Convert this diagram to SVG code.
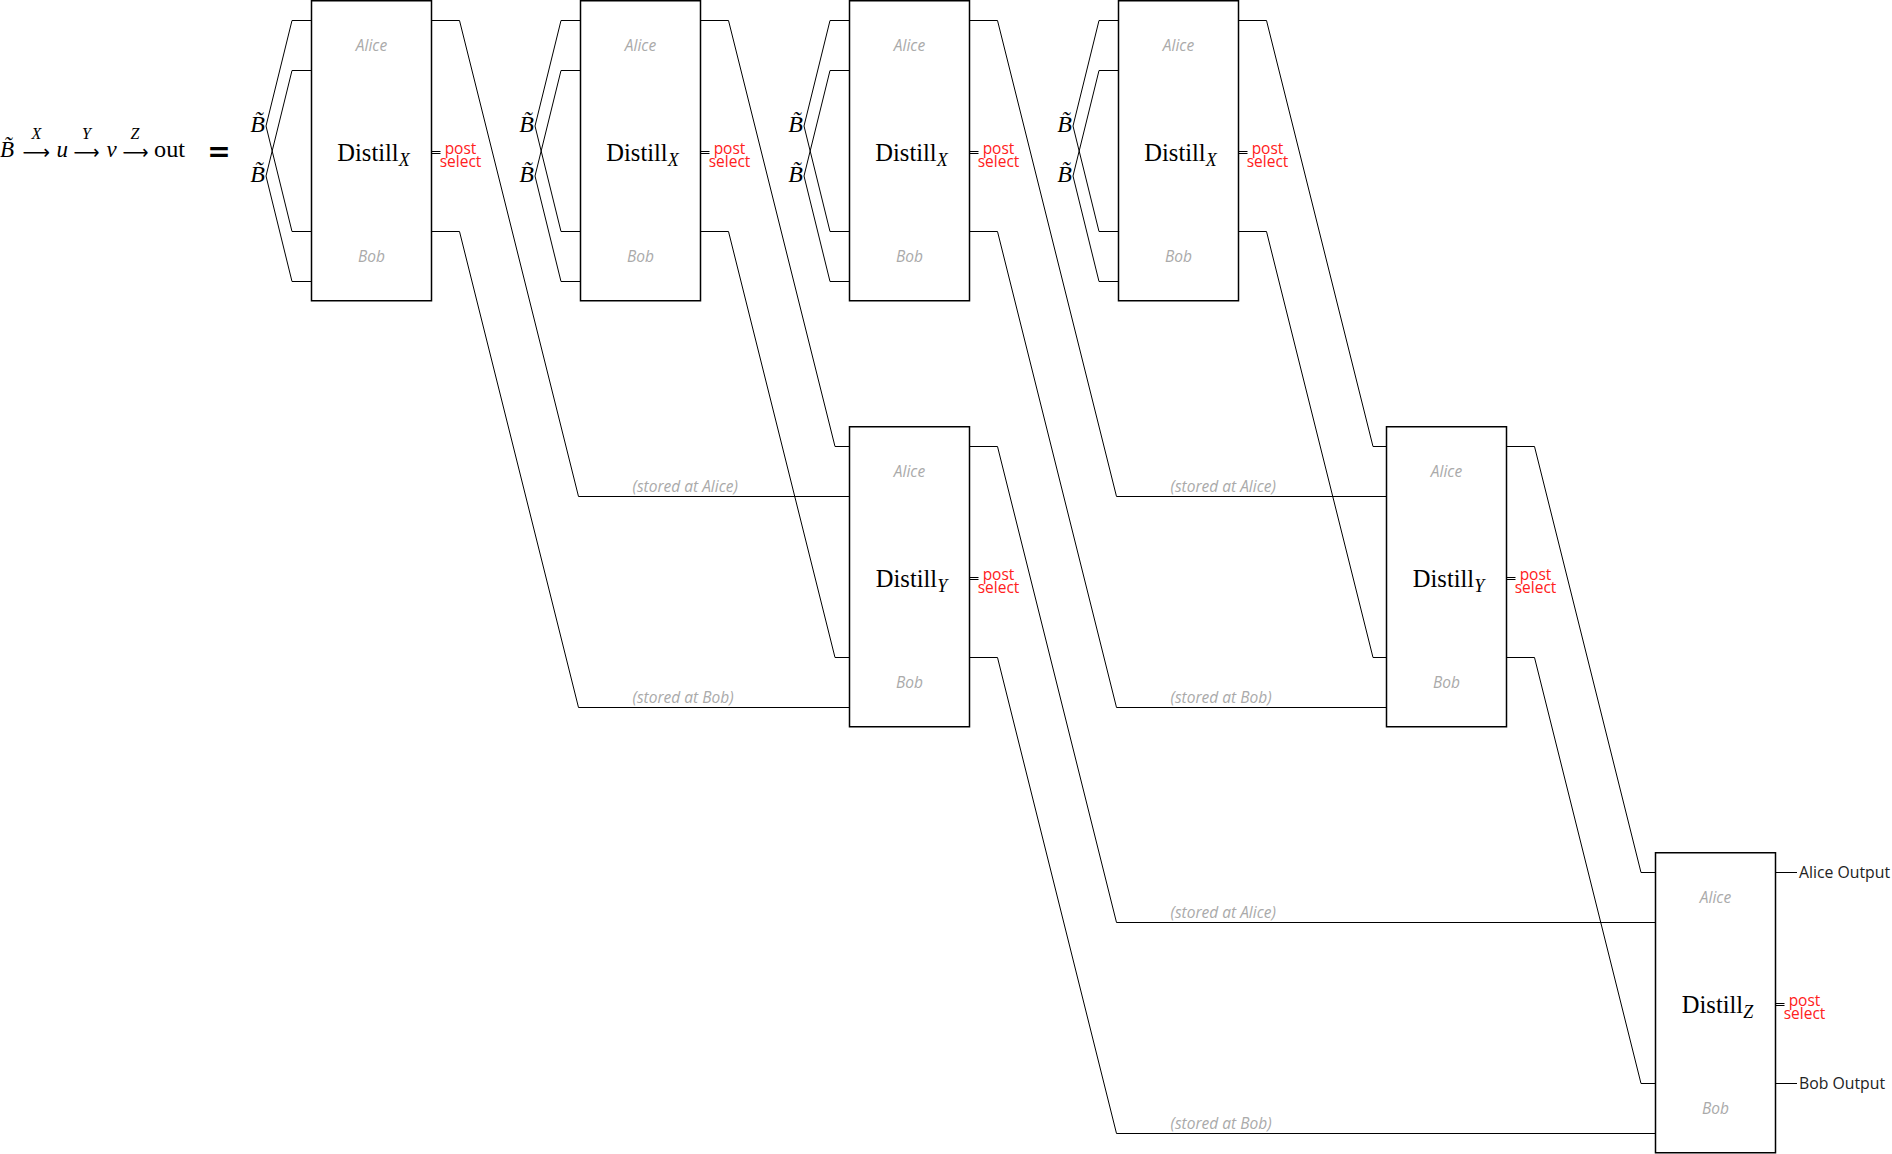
<svg xmlns="http://www.w3.org/2000/svg" width="1892" height="1154" viewBox="0 0 1892 1154">
<style>
.box{fill:#fff;stroke:#000;stroke-width:1.5}
.w{fill:none;stroke:#000;stroke-width:1}
.lbl{font-family:"Open Sans",sans-serif;font-style:italic;font-size:15.5px;fill:#aaa;text-anchor:middle}
.ps{font-family:"Open Sans",sans-serif;font-size:15.5px;fill:#ff2020;text-anchor:middle}
.dist{font-family:"Liberation Serif",serif;font-size:24.5px;fill:#000;text-anchor:middle}
.sub{font-style:italic;font-size:18px}
.st{font-family:"Open Sans",sans-serif;font-style:italic;font-size:15.5px;fill:#aaa}
.outl{font-family:"Open Sans",sans-serif;font-size:15.8px;fill:#222}
.bt{font-family:"Liberation Serif","DejaVu Serif",serif;font-style:italic;font-size:24px;fill:#000;text-anchor:end}
.m{font-family:"Liberation Serif","DejaVu Serif",serif;font-size:23px;fill:#000}
.mi{font-style:italic}
.ml{font-family:"Liberation Serif","DejaVu Serif",serif;font-style:italic;font-size:16px;fill:#000;text-anchor:middle}
.ar{font-family:"DejaVu Sans",sans-serif;font-size:20px;fill:#000}
.eq{font-family:"DejaVu Sans",sans-serif;font-weight:bold;font-size:28px;fill:#000;text-anchor:middle}
</style>
<defs>
<g id="psmark"><path class="w" d="M0,151.5 H9 M0,153.5 H9"/><text class="ps" x="29" y="153.5">post</text><text class="ps" x="29" y="166.5">select</text></g>
</defs>
<rect width="1892" height="1154" fill="#fff"/>

<g id="formula">
<text class="m mi" x="0" y="157" font-size="24">B&#x303;</text>
<text class="ar" x="22.5" y="159" textLength="27.5" lengthAdjust="spacingAndGlyphs">⟶</text>
<text class="ml" x="36.5" y="138.5">X</text>
<text class="m mi" x="56.5" y="157">u</text>
<text class="ar" x="73.5" y="159" textLength="26" lengthAdjust="spacingAndGlyphs">⟶</text>
<text class="ml" x="86.5" y="138.5">Y</text>
<text class="m mi" x="106.5" y="157">v</text>
<text class="ar" x="122.5" y="159" textLength="26" lengthAdjust="spacingAndGlyphs">⟶</text>
<text class="ml" x="135" y="138.5">Z</text>
<text class="m" x="154" y="157" textLength="31" lengthAdjust="spacingAndGlyphs">out</text>
<text class="eq" x="219" y="161">=</text>
</g>

<g id="connectors">
<path class="w" d="M311.5,20.5 H292 L266,126 L292,231.5 H311.5 M311.5,70.5 H292 L266,176 L292,281.5 H311.5"/>
<path class="w" d="M580.5,20.5 H561 L535,126 L561,231.5 H580.5 M580.5,70.5 H561 L535,176 L561,281.5 H580.5"/>
<path class="w" d="M849.5,20.5 H830 L804,126 L830,231.5 H849.5 M849.5,70.5 H830 L804,176 L830,281.5 H849.5"/>
<path class="w" d="M1118.5,20.5 H1099 L1073,126 L1099,231.5 H1118.5 M1118.5,70.5 H1099 L1073,176 L1099,281.5 H1118.5"/>
<path class="w" d="M431.5,20.5 H459.5 L578.5,496.5 H849.5 M431.5,231.5 H459.5 L578.5,707.5 H849.5"/>
<path class="w" d="M700.5,20.5 H728.5 L835,446.5 H849.5 M700.5,231.5 H728.5 L835,657.5 H849.5"/>
<path class="w" d="M969.5,20.5 H997.5 L1116.5,496.5 H1386.5 M969.5,231.5 H997.5 L1116.5,707.5 H1386.5"/>
<path class="w" d="M1238.5,20.5 H1266.5 L1373,446.5 H1386.5 M1238.5,231.5 H1266.5 L1373,657.5 H1386.5"/>
<path class="w" d="M969.5,446.5 H997.5 L1116.5,922.5 H1655.5 M969.5,657.5 H997.5 L1116.5,1133.5 H1655.5"/>
<path class="w" d="M1506.5,446.5 H1534.5 L1641,872.5 H1655.5 M1506.5,657.5 H1534.5 L1641,1083.5 H1655.5"/>
<path class="w" d="M1775.5,872.5 H1797 M1775.5,1083.5 H1797"/>
<text class="st" x="632.5" y="491.5">(stored at Alice)</text>
<text class="st" x="632.5" y="702.5">(stored at Bob)</text>
<text class="st" x="1170.5" y="491.5">(stored at Alice)</text>
<text class="st" x="1170.5" y="702.5">(stored at Bob)</text>
<text class="st" x="1170.5" y="917.5">(stored at Alice)</text>
<text class="st" x="1170.5" y="1128.5">(stored at Bob)</text>
<text class="outl" x="1799" y="877.5">Alice Output</text>
<text class="outl" x="1799" y="1088.5">Bob Output</text>
</g>

<g id="bell-1"><text class="bt" x="265" y="132">B&#x303;</text><text class="bt" x="265" y="182">B&#x303;</text></g>
<g id="bell-2"><text class="bt" x="534" y="132">B&#x303;</text><text class="bt" x="534" y="182">B&#x303;</text></g>
<g id="bell-3"><text class="bt" x="803" y="132">B&#x303;</text><text class="bt" x="803" y="182">B&#x303;</text></g>
<g id="bell-4"><text class="bt" x="1072" y="132">B&#x303;</text><text class="bt" x="1072" y="182">B&#x303;</text></g>

<g id="distill-x1">
<rect class="box" x="311.5" y="0.75" width="120" height="300"/>
<text class="lbl" x="371.5" y="50.5">Alice</text><text class="lbl" x="371.5" y="261.5">Bob</text>
<text class="dist" x="373.5" y="161">Distill<tspan class="sub" dy="5">X</tspan></text>
<use href="#psmark" x="431.5" y="0"/>
</g>
<g id="distill-x2">
<rect class="box" x="580.5" y="0.75" width="120" height="300"/>
<text class="lbl" x="640.5" y="50.5">Alice</text><text class="lbl" x="640.5" y="261.5">Bob</text>
<text class="dist" x="642.5" y="161">Distill<tspan class="sub" dy="5">X</tspan></text>
<use href="#psmark" x="700.5" y="0"/>
</g>
<g id="distill-x3">
<rect class="box" x="849.5" y="0.75" width="120" height="300"/>
<text class="lbl" x="909.5" y="50.5">Alice</text><text class="lbl" x="909.5" y="261.5">Bob</text>
<text class="dist" x="911.5" y="161">Distill<tspan class="sub" dy="5">X</tspan></text>
<use href="#psmark" x="969.5" y="0"/>
</g>
<g id="distill-x4">
<rect class="box" x="1118.5" y="0.75" width="120" height="300"/>
<text class="lbl" x="1178.5" y="50.5">Alice</text><text class="lbl" x="1178.5" y="261.5">Bob</text>
<text class="dist" x="1180.5" y="161">Distill<tspan class="sub" dy="5">X</tspan></text>
<use href="#psmark" x="1238.5" y="0"/>
</g>
<g id="distill-y1">
<rect class="box" x="849.5" y="426.75" width="120" height="300"/>
<text class="lbl" x="909.5" y="476.5">Alice</text><text class="lbl" x="909.5" y="687.5">Bob</text>
<text class="dist" x="911.5" y="587">Distill<tspan class="sub" dy="5">Y</tspan></text>
<use href="#psmark" x="969.5" y="426"/>
</g>
<g id="distill-y2">
<rect class="box" x="1386.5" y="426.75" width="120" height="300"/>
<text class="lbl" x="1446.5" y="476.5">Alice</text><text class="lbl" x="1446.5" y="687.5">Bob</text>
<text class="dist" x="1448.5" y="587">Distill<tspan class="sub" dy="5">Y</tspan></text>
<use href="#psmark" x="1506.5" y="426"/>
</g>
<g id="distill-z">
<rect class="box" x="1655.5" y="852.75" width="120" height="300"/>
<text class="lbl" x="1715.5" y="902.5">Alice</text><text class="lbl" x="1715.5" y="1113.5">Bob</text>
<text class="dist" x="1717.5" y="1013">Distill<tspan class="sub" dy="5">Z</tspan></text>
<use href="#psmark" x="1775.5" y="852"/>
</g>
</svg>
